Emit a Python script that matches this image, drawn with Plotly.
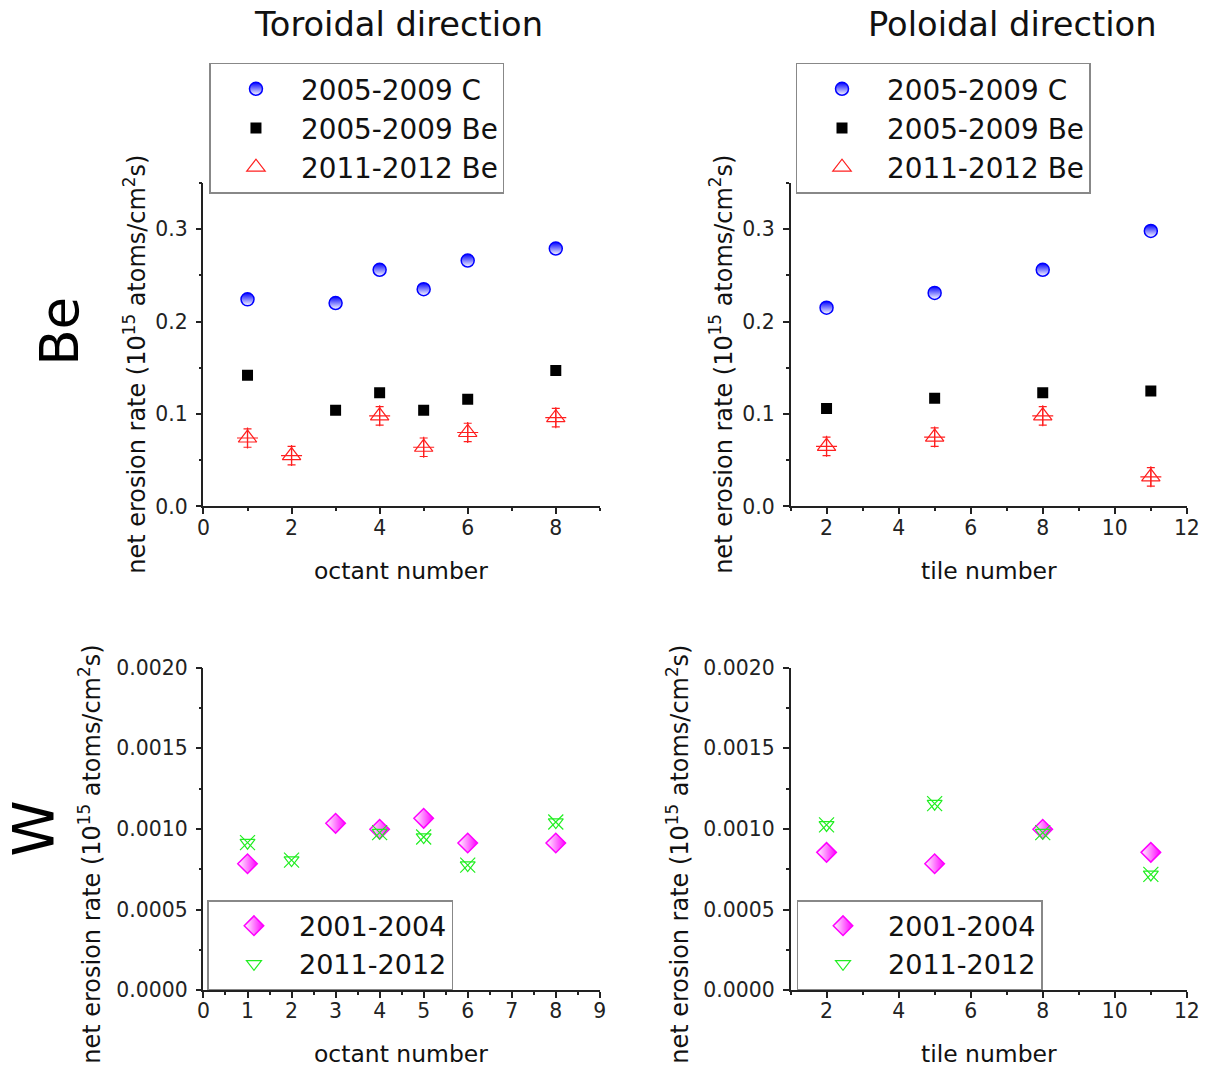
import plotly.graph_objects as go

# ---------------- data ----------------
# Be, toroidal direction (octant number)
tor_oct_C = [1, 3, 4, 5, 6, 8]
tor_C_0509 = [0.224, 0.220, 0.256, 0.235, 0.266, 0.279]
tor_oct_Be0509 = [1, 3, 4, 5, 6, 8]
tor_Be_0509 = [0.142, 0.104, 0.123, 0.104, 0.116, 0.147]
tor_oct_Be1112 = [1, 2, 4, 5, 6, 8]
tor_Be_1112 = [0.074, 0.055, 0.098, 0.064, 0.080, 0.096]
tor_Be_1112_err = [0.010, 0.010, 0.010, 0.010, 0.010, 0.010]

# Be, poloidal direction (tile number)
pol_tiles = [2, 5, 8, 11]
pol_C_0509 = [0.215, 0.231, 0.256, 0.298]
pol_Be_0509 = [0.106, 0.117, 0.123, 0.125]
pol_Be_1112 = [0.065, 0.075, 0.098, 0.032]
pol_Be_1112_err = [0.010, 0.010, 0.010, 0.010]

# W, toroidal direction
tor_oct_W0104 = [1, 3, 4, 5, 6, 8]
tor_W_0104 = [0.000784, 0.001035, 0.000998, 0.001066, 0.000913, 0.000913]
tor_oct_W1112 = [1, 2, 4, 5, 6, 8]
tor_W_1112 = [0.000915, 0.000807, 0.000977, 0.000950, 0.000776, 0.001043]

# W, poloidal direction
pol_W_0104 = [0.000855, 0.000784, 0.000998, 0.000855]
pol_W_1112 = [0.001025, 0.001157, 0.000977, 0.000718]

labels_Be = ["2005-2009 C", "2005-2009 Be", "2011-2012 Be"]
labels_W = ["2001-2004", "2011-2012"]
col_titles = ["Toroidal direction", "Poloidal direction"]
row_labels = ["Be", "W"]
xtitles = ["octant number", "tile number"]
ytitle = "net erosion rate (10<sup>15</sup> atoms/cm<sup>2</sup>s)"

# ---------------- layout geometry ----------------
W, H = 1217, 1073
FONT = "DejaVu Sans, Verdana, sans-serif"

# calibration of the captured picture vs. page pixels
SX, OX = 0.986, 5.2
SY, OY = 0.976, 12.4


def px(x):
    return ((x - OX) / SX) / W


def py(y):
    return 1 - ((y - OY) / SY) / H


def fs(s):
    return s / 0.98


BLUE = "#0000ff"
RED = "#ff2020"
MAG = "#ff00ff"
GREEN = "#22ee22"

fig = go.Figure()


def add_be(xa, ya, legend, xs_c, c, xs_b, b, xs_r, r, rerr):
    fig.add_trace(go.Scatter(
        x=xs_c, y=c, mode="markers", name=labels_Be[0], xaxis=xa, yaxis=ya, legend=legend,
        marker=dict(symbol="circle", size=13, color=BLUE,
                    gradient=dict(type="vertical", color="white"),
                    line=dict(color=BLUE, width=1.5))))
    fig.add_trace(go.Scatter(
        x=xs_b, y=b, mode="markers", name=labels_Be[1], xaxis=xa, yaxis=ya, legend=legend,
        marker=dict(symbol="square", size=11, color="black", line=dict(width=0))))
    fig.add_trace(go.Scatter(
        x=xs_r, y=r, mode="markers", name=labels_Be[2], xaxis=xa, yaxis=ya, legend=legend,
        error_y=dict(type="data", array=rerr, visible=True, color=RED, thickness=1.2, width=4),
        marker=dict(symbol="triangle-up-open", size=16, color=RED, line=dict(color=RED, width=1.2))))
    fig.add_trace(go.Scatter(
        x=xs_r, y=r, mode="markers", showlegend=False, xaxis=xa, yaxis=ya, hoverinfo="skip",
        marker=dict(symbol="cross-thin-open", size=15, color=RED, line=dict(color=RED, width=1.2))))


def add_w(xa, ya, legend, xs_m, m, xs_g, g):
    fig.add_trace(go.Scatter(
        x=xs_m, y=m, mode="markers", name=labels_W[0], xaxis=xa, yaxis=ya, legend=legend,
        marker=dict(symbol="diamond", size=15, color="white",
                    gradient=dict(type="horizontal", color=MAG),
                    line=dict(color=MAG, width=1.5))))
    fig.add_trace(go.Scatter(
        x=xs_g, y=g, mode="markers", name=labels_W[1], xaxis=xa, yaxis=ya, legend=legend,
        marker=dict(symbol="triangle-down-open", size=13, color=GREEN, line=dict(color=GREEN, width=1.2))))
    fig.add_trace(go.Scatter(
        x=xs_g, y=g, mode="markers", showlegend=False, xaxis=xa, yaxis=ya, hoverinfo="skip",
        marker=dict(symbol="x-thin-open", size=15, color=GREEN, line=dict(color=GREEN, width=1.2))))


add_be("x", "y", "legend", tor_oct_C, tor_C_0509, tor_oct_Be0509, tor_Be_0509,
       tor_oct_Be1112, tor_Be_1112, tor_Be_1112_err)
add_be("x2", "y2", "legend2", pol_tiles, pol_C_0509, pol_tiles, pol_Be_0509,
       pol_tiles, pol_Be_1112, pol_Be_1112_err)
add_w("x3", "y3", "legend3", tor_oct_W0104, tor_W_0104, tor_oct_W1112, tor_W_1112)
add_w("x4", "y4", "legend4", pol_tiles, pol_W_0104, pol_tiles, pol_W_1112)

# ---------------- axes ----------------
tickfont = dict(family=FONT, size=fs(20), color="#222")
common = dict(showline=True, linecolor="#222", linewidth=1.5, ticks="outside", ticklen=6,
              tickwidth=1.5, tickcolor="#222", showgrid=False, zeroline=False,
              tickfont=tickfont)
xcommon = dict(common, ticklabelstandoff=-4)
ycommon = dict(common, ticklabelstandoff=4)

xL = [px(203), px(600)]
xR = [px(791), px(1188)]
yT = [py(506), py(183)]
yB = [py(989), py(667)]

minor_small = dict(ticklen=3, tickwidth=1.5, tickcolor="#222", ticks="outside")

fig.update_layout(
    xaxis=dict(domain=xL, range=[0, 9], tick0=0, dtick=2, anchor="y",
               minor=dict(dtick=1, **minor_small), **xcommon),
    yaxis=dict(domain=yT, range=[0, 0.35], tick0=0, dtick=0.1, tickformat=".1f", anchor="x",
               minor=dict(dtick=0.05, **minor_small), **ycommon),
    xaxis2=dict(domain=xR, range=[1, 12], tick0=0, dtick=2, anchor="y2",
                minor=dict(dtick=1, **minor_small), **xcommon),
    yaxis2=dict(domain=yT, range=[0, 0.35], tick0=0, dtick=0.1, tickformat=".1f", anchor="x2",
                minor=dict(dtick=0.05, **minor_small), **ycommon),
    xaxis3=dict(domain=xL, range=[0, 9], tick0=0, dtick=1, anchor="y3",
                minor=dict(dtick=0.5, **minor_small), **xcommon),
    yaxis3=dict(domain=yB, range=[0, 0.002], tick0=0, dtick=0.0005, tickformat=".4f", anchor="x3",
                minor=dict(dtick=0.00025, **minor_small), **ycommon),
    xaxis4=dict(domain=xR, range=[1, 12], tick0=0, dtick=2, anchor="y4",
                minor=dict(dtick=1, **minor_small), **xcommon),
    yaxis4=dict(domain=yB, range=[0, 0.002], tick0=0, dtick=0.0005, tickformat=".4f", anchor="x4",
                minor=dict(dtick=0.00025, **minor_small), **ycommon),
)

# ---------------- legends ----------------
legcommon = dict(bgcolor="white", bordercolor="#888", borderwidth=1.5,
                 xanchor="left", yanchor="top", itemwidth=80, tracegroupgap=0,
                 itemclick=False, itemdoubleclick=False)
legfont_top = dict(family=FONT, size=fs(27.3), color="#111")
legfont_bot = dict(family=FONT, size=fs(26.5), color="#111")
fig.update_layout(
    legend=dict(x=px(209), y=py(63), font=legfont_top, **legcommon),
    legend2=dict(x=px(796), y=py(63), font=legfont_top, **legcommon),
    legend3=dict(x=px(207), y=py(899), font=legfont_bot, **legcommon),
    legend4=dict(x=px(797), y=py(899), font=legfont_bot, **legcommon),
)

# ---------------- text ----------------
ann = []
ann.append(dict(text=col_titles[0], x=px(398), y=py(25), font=dict(family=FONT, size=fs(33), color="#111")))
ann.append(dict(text=col_titles[1], x=px(1013), y=py(25), font=dict(family=FONT, size=fs(33), color="#111")))
ann.append(dict(text=row_labels[0], x=px(59), y=py(331), textangle=-90, font=dict(family=FONT, size=fs(52), color="black")))
ann.append(dict(text=row_labels[1], x=px(33), y=py(828), textangle=-90, font=dict(family=FONT, size=fs(56), color="black")))
for xc, yc in [(401, 570), (401, 1053)]:
    ann.append(dict(text=xtitles[0], x=px(xc), y=py(yc), font=dict(family=FONT, size=fs(23), color="#111")))
for xc, yc in [(990, 570), (990, 1053)]:
    ann.append(dict(text=xtitles[1], x=px(xc), y=py(yc), font=dict(family=FONT, size=fs(23), color="#111")))
for xc, yc in [(135, 364), (722, 364), (89, 853), (678, 853)]:
    ann.append(dict(text=ytitle, x=px(xc), y=py(yc), textangle=-90, font=dict(family=FONT, size=fs(23.5), color="#111")))
for a in ann:
    a.update(xref="paper", yref="paper", showarrow=False, xanchor="center", yanchor="middle")

fig.update_layout(
    annotations=ann,
    width=W, height=H,
    margin=dict(l=0, r=0, t=0, b=0),
    paper_bgcolor="white", plot_bgcolor="white",
    font=dict(family=FONT),
)

fig.write_html(
    "out.html",
    config={"displayModeBar": False},
    post_script="document.body.style.margin='0';document.body.style.overflow='hidden';",
)
